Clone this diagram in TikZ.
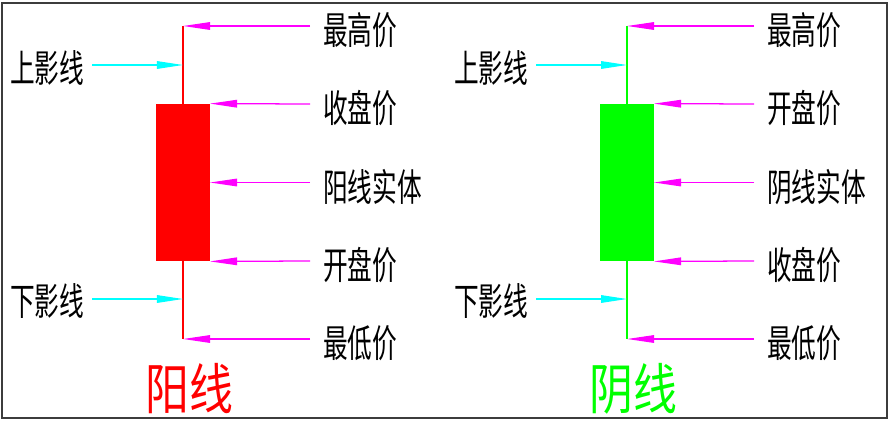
\documentclass[tikz,border=0pt]{standalone}
\usepackage{fontspec}
\newfontfamily\cjk{Noto Sans CJK SC}
\definecolor{yangred}{RGB}{255,0,0}
\definecolor{yingreen}{RGB}{0,255,0}
\definecolor{pointer}{RGB}{255,0,255}
\definecolor{shadow}{RGB}{0,255,255}
\definecolor{frame}{RGB}{60,60,60}
\usetikzlibrary{arrows.meta,positioning}

\begin{document}
\begin{tikzpicture}[x=0.025cm,y=-0.025cm]
  \tikzstyle{label}=[inner sep=0pt,anchor=west,xscale=0.65,font=\cjk\fontsize{27}{32}\selectfont]
  \tikzstyle{title}=[inner sep=0pt,xscale=0.8,font=\cjk\fontsize{39}{45}\selectfont]
  \tikzstyle{price}=[pointer,line width=0.9pt,-{Triangle[length=0.68cm,width=0.19cm]}]
  \tikzstyle{shade}=[shadow,line width=0.8pt,-{Triangle[length=0.65cm,width=0.19cm]}]
  \tikzstyle{body}=[rectangle,inner sep=0pt,minimum width=1.33cm,minimum height=3.93cm]
  \useasboundingbox (0,0) rectangle (892,423);
  \draw[frame,line width=1pt] (2,3) rectangle (887,418);

  % yang candle
  \node[body,fill=yangred] (yangbody) at (183,182.5) {};
  \coordinate (yanghigh) at (183,26);
  \coordinate (yanglow) at (183,339);
  \coordinate (yangup) at (183,65);
  \coordinate (yangdown) at (183,299);
  \draw[yangred,line width=0.8pt] (yanghigh) -- (yangbody.north -| yanghigh);
  \draw[yangred,line width=0.8pt] (yangbody.south -| yanglow) -- (yanglow);
  \node[label] (yanghightxt) at (323,30) {最高价};
  \node[label] (yangclosetxt) at (323,108) {收盘价};
  \node[label] (yangbodytxt) at (323,187) {阳线实体};
  \node[label] (yangopentxt) at (323,265) {开盘价};
  \node[label] (yanglowtxt) at (323,343) {最低价};
  \node[label] (yanguptxt) at (10,68) {上影线};
  \node[label] (yangdowntxt) at (10,301) {下影线};
  \node[title,text=yangred] (yangtitle) at (189,389) {阳线};
  \coordinate (yanga) at (310,26);
  \coordinate (yangb) at (310,104);
  \coordinate (yangc) at (310,182.5);
  \coordinate (yangd) at (310,261);
  \coordinate (yange) at (310,339);
  \coordinate (yangf) at (92,65);
  \coordinate (yangg) at (92,299);
  \draw[price] (yanga) -- (yanghigh);
  \draw[price] (yangb) -- (yangbody.north east);
  \draw[price] (yangc) -- (yangbody.east);
  \draw[price] (yangd) -- (yangbody.south east);
  \draw[price] (yange) -- (yanglow);
  \draw[shade] (yangf) -- (yangup);
  \draw[shade] (yangg) -- (yangdown);

  % yin candle
  \node[body,fill=yingreen] (yinbody) at (627,182.5) {};
  \coordinate (yinhigh) at (627,26);
  \coordinate (yinlow) at (627,339);
  \coordinate (yinup) at (627,65);
  \coordinate (yindown) at (627,299);
  \draw[yingreen,line width=0.8pt] (yinhigh) -- (yinbody.north -| yinhigh);
  \draw[yingreen,line width=0.8pt] (yinbody.south -| yinlow) -- (yinlow);
  \node[label] (yinhightxt) at (767,30) {最高价};
  \node[label] (yinopentxt) at (767,108) {开盘价};
  \node[label] (yinbodytxt) at (767,187) {阴线实体};
  \node[label] (yinclosetxt) at (767,265) {收盘价};
  \node[label] (yinlowtxt) at (767,343) {最低价};
  \node[label] (yinuptxt) at (454,68) {上影线};
  \node[label] (yindowntxt) at (454,301) {下影线};
  \node[title,text=yingreen] (yintitle) at (633,389) {阴线};
  \coordinate (yina) at (754,26);
  \coordinate (yinb) at (754,104);
  \coordinate (yinc) at (754,182.5);
  \coordinate (yind) at (754,261);
  \coordinate (yine) at (754,339);
  \coordinate (yinf) at (536,65);
  \coordinate (ying) at (536,299);
  \draw[price] (yina) -- (yinhigh);
  \draw[price] (yinb) -- (yinbody.north east);
  \draw[price] (yinc) -- (yinbody.east);
  \draw[price] (yind) -- (yinbody.south east);
  \draw[price] (yine) -- (yinlow);
  \draw[shade] (yinf) -- (yinup);
  \draw[shade] (ying) -- (yindown);
\end{tikzpicture}
\end{document}
